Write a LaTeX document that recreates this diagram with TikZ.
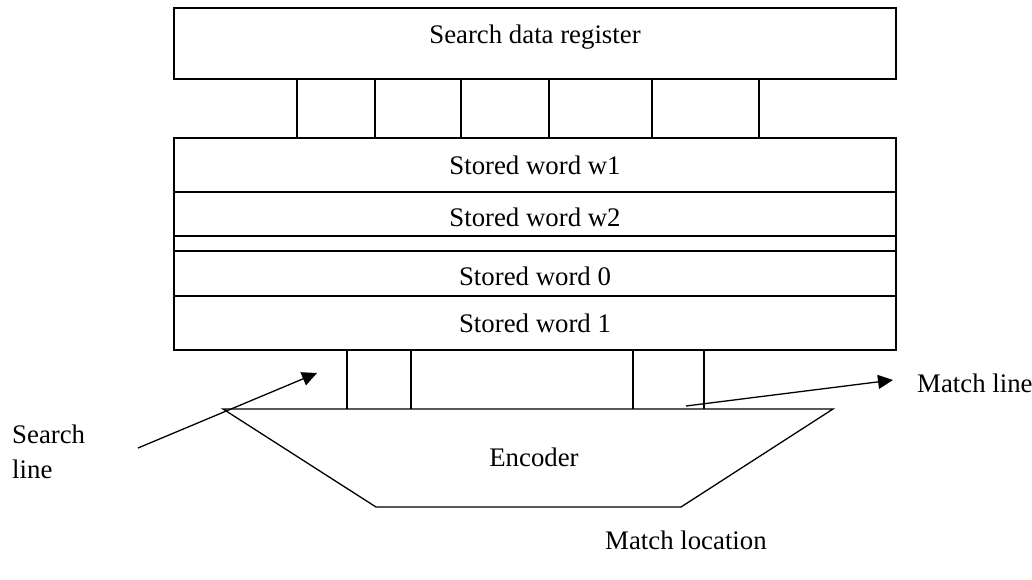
\documentclass[tikz,border=0pt]{standalone}
\usepackage{fontspec}
\setmainfont{Liberation Serif}
\usetikzlibrary{arrows.meta,positioning}

\begin{document}
\begin{tikzpicture}[
  x=1pt,y=-1pt,
  font=\fontsize{26.8}{35}\selectfont,
  word/.style={draw,line width=1.3pt,minimum width=722pt,inner sep=0pt,outer sep=0pt},
  wire/.style={line width=1.3pt},
  txt/.style={inner sep=0pt,align=left},
  arr/.style={-{Triangle[length=15pt,width=14pt]},line width=1.3pt}
]
\useasboundingbox (0,0) rectangle (1032,580);
% register and stored words
\node[word,minimum height=71pt,text height=18pt,text depth=18pt] (reg) at (535,43.5) {Search data register};
\node[word,minimum height=54pt] (w1) at (535,165) {Stored word w1};
\node[word,minimum height=44pt,text height=26pt,below=0pt of w1] (w2) {Stored word w2};
\node[word,minimum height=15pt,below=0pt of w2] (gap) {};
\node[word,minimum height=45pt,text height=24.5pt,below=0pt of gap] (wd0) {Stored word 0};
\node[word,minimum height=54pt,below=0pt of wd0] (wd1) {Stored word 1};
\foreach \x in {297,375,461,549,652,759}
  \draw[wire] (\x,0 |- reg.south) -- (\x,0 |- w1.north);
% encoder
\coordinate (enc-tl) at (223,409);
\coordinate (enc-tr) at (833,409);
\coordinate (enc-br) at (681,507);
\coordinate (enc-bl) at (376,507);
\draw[wire] (enc-tl) -- (enc-tr) -- (enc-br) -- (enc-bl) -- cycle;
\node[txt] (enc) at (534,457) {Encoder};
\foreach \x in {347,411,633,704}
  \draw[wire] (\x,0 |- wd1.south) -- (\x,0 |- enc-tl);
% labels
\node[txt,anchor=west] (sl) at (12,452) {Search\\line};
\node[txt,anchor=west] (ml) at (917,383) {Match line};
\node[txt,anchor=west] (mloc) at (605,540) {Match location};
\coordinate (sl-from) at (138,448);
\coordinate (sl-to) at (317,373);
\coordinate (ml-from) at (686,406);
\coordinate (ml-to) at (893,380);
\draw[arr] (sl-from) -- (sl-to);
\draw[arr] (ml-from) -- (ml-to);
\end{tikzpicture}
\end{document}
